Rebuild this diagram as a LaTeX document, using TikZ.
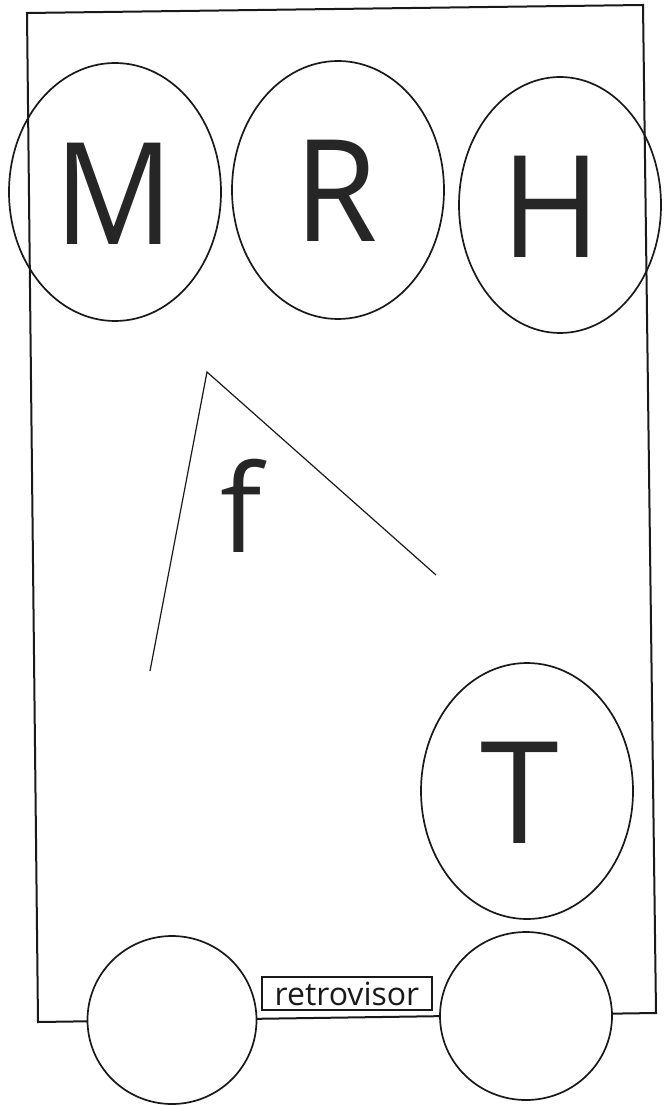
\documentclass[tikz,border=0pt]{standalone}
\usepackage{fontspec}
\setmainfont{Open Sans}
\usetikzlibrary{shapes.geometric}
\begin{document}
\begin{tikzpicture}[x=0.5pt,y=-0.5pt,
  oval/.style={draw=black!90, ellipse, line width=0.85pt, inner sep=0pt},
  wheel/.style={draw=black!90, ellipse, fill=white, line width=0.85pt, inner sep=0pt},
  big/.style={font=\fontsize{71}{71}\selectfont, text=black!85, inner sep=0pt},
  mid/.style={font=\fontsize{61}{61}\selectfont, text=black!85, inner sep=0pt},
  tag/.style={draw=black!90, line width=0.6pt, inner sep=0pt, font=\fontsize{16}{16}\selectfont, text=black!90}
  ]
\useasboundingbox (0,0) rectangle (663,1106);
\fill[white] (0,0) rectangle (663,1106);
% body
\draw[line width=1pt, draw=black!90, line join=miter] (27,13) -- (643,5) -- (656,1013) -- (38,1022) -- cycle;
% ovals
\node[oval, minimum width=106pt, minimum height=129pt] (eM) at (115,192) {};
\node[oval, minimum width=106pt, minimum height=129pt] (eR) at (338,190) {};
\node[oval, minimum width=101pt, minimum height=128pt] (eH) at (560,205) {};
\node[oval, minimum width=106pt, minimum height=128pt] (eT) at (527,791) {};
% letters
\node[big] (tM) at (114.5,193.5) {\scalebox{0.93}[1]{M}};
\node[big] (tR) at (336,190.5) {\scalebox{0.95}[1]{R}};
\node[big] (tH) at (551,206.5) {\scalebox{0.95}[1]{H}};
\node[big] (tT) at (519.5,793) {T};
\node[mid] (tf) at (241,505.5) {f};
% angle
\draw[line width=0.6pt, draw=black!90] (150,671) -- (207,372) -- (436,575);
% wheels
\node[wheel, minimum width=84.5pt, minimum height=84pt] (wL) at (172,1020) {};
\node[wheel, minimum width=86pt, minimum height=84pt] (wR) at (526,1016) {};
% label
\node[tag, minimum width=85pt, minimum height=16.5pt] (retro) at (347,993.5) {retrovisor};
\end{tikzpicture}
\end{document}
